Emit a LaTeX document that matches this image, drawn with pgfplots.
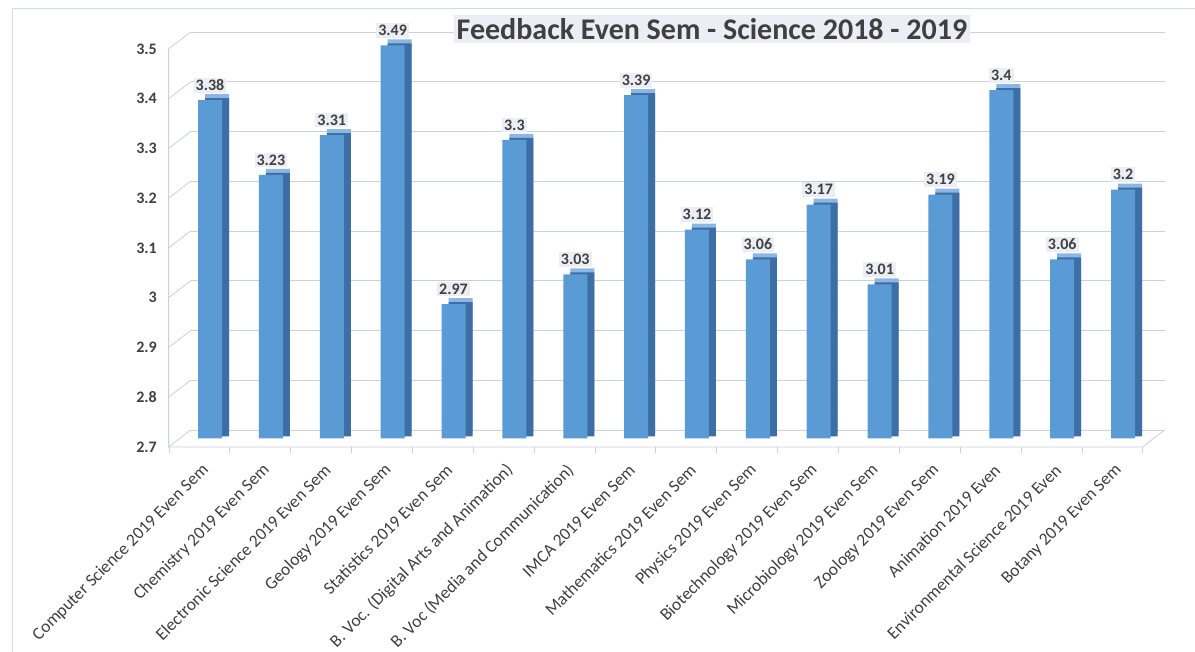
\documentclass[border=0pt]{standalone}
\usepackage{fontspec}
\setmainfont{Carlito}
\usepackage{pgfplots}
\pgfplotsset{compat=1.18}
\definecolor{barfront}{HTML}{5B9BD5}
\definecolor{barside}{HTML}{3D6EA6}
\definecolor{bartop}{HTML}{8DB6E2}
\definecolor{gridc}{HTML}{CBD0DA}
\definecolor{txt}{HTML}{404040}
\definecolor{lblbg}{HTML}{EBEEF4}
\begin{document}
\begin{tikzpicture}[x=1pt,y=1pt]
\path[use as bounding box] (0,0) rectangle (1195,652);
\fill[white] (0,0) rectangle (1195,652);
\draw[gridc!80, line width=0.8pt] (12,-2) -- (12,644) -- (1197,644);
\begin{axis}[
  at={(179.6pt,213.5pt)}, anchor=south west,
  scale only axis, width=973.9pt, height=398pt,
  xmin=-0.5, xmax=15.5, ymin=2.7, ymax=3.5,
  clip=false,
  axis line style={draw=none},
  ybar, bar width=24pt,
  /pgf/number format/assume math mode=true,
  xtick={0,...,15},
  xticklabels={Computer Science 2019 Even Sem, Chemistry 2019 Even Sem, Electronic Science 2019 Even Sem, Geology 2019 Even Sem, Statistics 2019 Even Sem, B. Voc. (Digital Arts and Animation), B. Voc (Media and Communication), IMCA 2019 Even Sem, Mathematics 2019 Even Sem, Physics 2019 Even Sem, Biotechnology 2019 Even Sem, Microbiology 2019 Even Sem, Zoology 2019 Even Sem, Animation 2019 Even, Environmental Science 2019 Even, Botany 2019 Even Sem},
  ytick={2.7,2.8,2.9,3,3.1,3.2,3.3,3.4,3.5},
  minor xtick={-0.5,0.5,...,15.5},
  xtick pos=bottom, ytick pos=left,
  major tick length=0pt, minor tick length=6pt, tick align=outside,
  minor tick style={gridc, xshift=-11pt, yshift=-8.5pt},
  ymajorgrids,
  major grid style={gridc, line width=0.8pt, xshift=11pt, yshift=8.5pt},
  yticklabel style={font=\bfseries\fontsize{16}{18}\selectfont, text=txt, anchor=east, inner sep=0pt, xshift=-22.6pt, yshift=-8.5pt},
  xticklabel style={font=\fontsize{17.5}{19}\selectfont, text=txt, inner sep=0pt, xshift=-4pt, yshift=-29pt, rotate=45, anchor=east},
  nodes near coords,
  every node near coord/.append style={font=\bfseries\fontsize{16}{18}\selectfont, text=txt, fill=lblbg, inner sep=2pt, anchor=center, yshift=15pt},
]
\pgfplotsinvokeforeach{2.7,2.8,2.9,3,3.1,3.2,3.3,3.4,3.5}{
  \draw[gridc, line width=0.8pt] ([shift={(-11pt,-8.5pt)}]axis cs:-0.5,#1) -- ++(22pt,17pt);
}
\draw[gridc, line width=0.8pt] ([shift={(-11pt,-8.5pt)}]axis cs:-0.5,3.5) -- ([shift={(-11pt,-8.5pt)}]axis cs:-0.5,2.7) -- ([shift={(-11pt,-8.5pt)}]axis cs:15.5,2.7) -- ++(22pt,17pt);
\addplot[fill=barfront, draw=none,
  preaction={fill=bartop, transform canvas={shift={(7pt,6pt)}}},
  preaction={fill=barside, transform canvas={shift={(7pt,2pt)}}}]
  coordinates {(0,3.38) (1,3.23) (2,3.31) (3,3.49) (4,2.97) (5,3.3) (6,3.03) (7,3.39) (8,3.12) (9,3.06) (10,3.17) (11,3.01) (12,3.19) (13,3.4) (14,3.06) (15,3.2)};
\end{axis}
\node[font=\bfseries\fontsize{30}{33}\selectfont, text=txt, fill=lblbg, inner sep=3pt] at (712,623) {Feedback Even Sem - Science 2018 - 2019};
\end{tikzpicture}
\end{document}
